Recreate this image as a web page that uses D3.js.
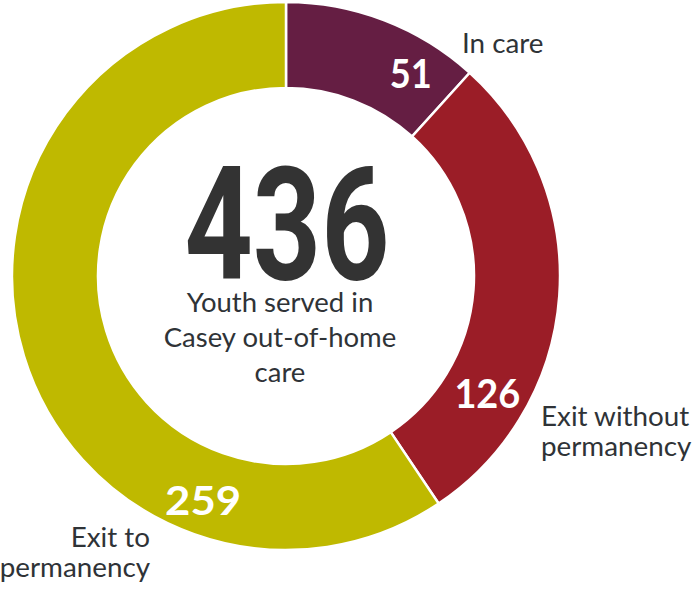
<!DOCTYPE html>
<html>
<head>
<meta charset="utf-8">
<script src="https://cdn.jsdelivr.net/npm/d3@7"></script>
<style>
  html, body { margin: 0; padding: 0; background: #fff; }
  svg { display: block; }
</style>
</head>
<body>
<svg id="chart" width="698" height="591"></svg>
<script>
// ---- data ----
const categories = ["In care", "Exit without permanency", "Exit to permanency"];
const values = [51, 126, 259];
const colors = ["#651e43", "#9b1d27", "#bfb900"];
const labelLines = [["In care"], ["Exit without", "permanency"], ["Exit to", "permanency"]];
const totalValue = 436;
const centerLines = ["Youth served in", "Casey out-of-home", "care"];

// ---- layout ----
const W = 698, H = 591;
const cx = 286, cy = 276;
const outerR = 274, innerR = 188;

const svg = d3.select("#chart");
const g = svg.append("g").attr("transform", `translate(${cx},${cy})`);

const data = categories.map((c, i) => ({ cat: c, value: values[i], color: colors[i], lines: labelLines[i] }));

const pie = d3.pie().sort(null).value(d => d.value).startAngle(0).endAngle(2 * Math.PI);
const arc = d3.arc().innerRadius(innerR).outerRadius(outerR);
const arcs = pie(data);

g.selectAll("path.slice")
  .data(arcs)
  .join("path")
  .attr("class", "slice")
  .attr("d", arc)
  .attr("fill", d => d.data.color)
  .attr("stroke", "#fff")
  .attr("stroke-width", 2.5);

// value labels (inside ring), placed by polar offsets
const valuePos = [
  { a: 31.6, r: 238 },
  { a: 120.2, r: 233 },
  { a: 200.3, r: 239 }
];
const valueWidths = [42, 66, 76];
g.selectAll("text.val")
  .data(arcs)
  .join("text")
  .attr("class", "val")
  .attr("x", (d, i) => valuePos[i].r * Math.sin(valuePos[i].a * Math.PI / 180))
  .attr("y", (d, i) => -valuePos[i].r * Math.cos(valuePos[i].a * Math.PI / 180))
  .attr("dy", "0.36em")
  .attr("text-anchor", "middle")
  .attr("font-family", "Lato, 'Open Sans', sans-serif")
  .attr("font-weight", 700)
  .attr("font-size", 40)
  .attr("fill", "#fff")
  .attr("textLength", (d, i) => valueWidths[i])
  .attr("lengthAdjust", "spacingAndGlyphs")
  .text(d => d.data.value);

// category labels (outside)
const catPos = [
  { x: 462, y: 53, anchor: "start" },
  { x: 541, y: 426, anchor: "start" },
  { x: 150, y: 547, anchor: "end" }
];
const lineH = 30;
data.forEach((d, i) => {
  const t = svg.append("text")
    .attr("font-family", "Lato, 'Open Sans', sans-serif")
    .attr("font-size", 27.8)
    .attr("fill", "#2f3337")
    .attr("text-anchor", catPos[i].anchor);
  d.lines.forEach((ln, j) => {
    t.append("tspan")
      .attr("x", catPos[i].x)
      .attr("y", catPos[i].y + j * lineH)
      .text(ln);
  });
});

// center total
svg.append("text")
  .attr("x", 287)
  .attr("y", 279)
  .attr("text-anchor", "middle")
  .attr("font-family", "Roboto, 'DejaVu Sans', sans-serif")
  .attr("font-weight", 700)
  .attr("font-size", 157)
  .attr("fill", "#333333")
  .attr("textLength", 205)
  .attr("lengthAdjust", "spacingAndGlyphs")
  .text(totalValue);

const ct = svg.append("text")
  .attr("text-anchor", "middle")
  .attr("font-family", "Lato, 'Open Sans', sans-serif")
  .attr("font-size", 27.5)
  .attr("fill", "#2f3337");
centerLines.forEach((ln, j) => {
  ct.append("tspan")
    .attr("x", 280)
    .attr("y", 312 + j * 35)
    .text(ln);
});
</script>
</body>
</html>
